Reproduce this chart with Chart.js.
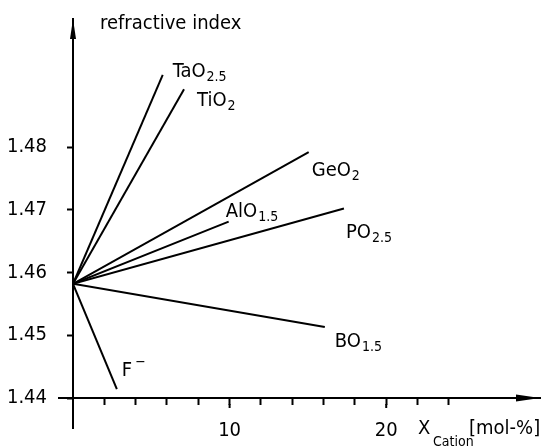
<!DOCTYPE html>
<html>
<head>
<meta charset="utf-8">
<title>Refractive index vs. cation content</title>
<script src="https://cdn.jsdelivr.net/npm/chart.js@4.4.1/dist/chart.umd.min.js"></script>
<style>
    body { margin: 0; background: #fff; }
    canvas { display: block; }
</style>
</head>
<body>
<canvas id="indexChart" width="543" height="447"></canvas>
<script>
// Values
const dopants = ['TaO2.5', 'TiO2', 'GeO2', 'AlO1.5', 'PO2.5', 'BO1.5', 'F-'];
const startX = 0;
const startN = 1.4582;
const endX = [5.73, 7.09, 15.05, 9.94, 17.3, 16.08, 2.8];
const endN = [1.4915, 1.4892, 1.4792, 1.4681, 1.4702, 1.4513, 1.4414];
const labelMain = ['TaO', 'TiO', 'GeO', 'AlO', 'PO', 'BO', 'F'];
const labelSub = ['2.5', '2', '2', '1.5', '2.5', '1.5', ''];
const labelSup = ['', '', '', '', '', '', '\u2212'];
const xTicks = [2, 4, 6, 8, 10, 12, 14, 16, 18, 20, 22, 24];
const xTickLabels = [10, 20];
const yTicks = [1.44, 1.45, 1.46, 1.47, 1.48];

// where each name sits, in pixels from the end of its line
const labelOffsets = [[10, 2], [13, 17], [3, 24], [-3, -5], [2, 29], [10, 20], [5, -13]];

const FONT = '"DejaVu Sans Condensed", "Liberation Sans Narrow", "DejaVu Sans", sans-serif';

let chart;

document.addEventListener('DOMContentLoaded', function() {
    initializeChart();
});

function buildDatasets() {
    return dopants.map((name, i) => ({
        label: name,
        data: [{ x: startX, y: startN }, { x: endX[i], y: endN[i] }],
        showLine: true,
        borderColor: '#000',
        borderWidth: 2,
        pointRadius: 0
    }));
}

// arrow heads, labels and axis titles
const annotations = {
    id: 'annotations',
    afterDraw(chart) {
        const ctx = chart.ctx;
        const xs = chart.scales.x;
        const ys = chart.scales.y;
        const area = chart.chartArea;
        const x0 = xs.getPixelForValue(0);
        const y0 = ys.getPixelForValue(yTicks[0]);

        ctx.save();
        ctx.fillStyle = '#000';
        ctx.strokeStyle = '#000';
        ctx.lineWidth = 2;

        // x axis runs a little past the y axis
        ctx.beginPath();
        ctx.moveTo(x0 - 15, y0);
        ctx.lineTo(x0, y0);
        ctx.stroke();

        ctx.beginPath();
        ctx.moveTo(area.right, y0);
        ctx.lineTo(area.right - 24, y0 - 3.5);
        ctx.lineTo(area.right - 24, y0 + 3.5);
        ctx.closePath();
        ctx.fill();

        ctx.beginPath();
        ctx.moveTo(x0, area.top);
        ctx.lineTo(x0 - 3, area.top + 20);
        ctx.lineTo(x0 + 3, area.top + 20);
        ctx.closePath();
        ctx.fill();

        // labelled ticks are a bit longer
        xTickLabels.forEach(v => {
            const px = xs.getPixelForValue(v);
            ctx.beginPath();
            ctx.moveTo(px, y0 + 6);
            ctx.lineTo(px, y0 + 10);
            ctx.stroke();
        });

        ctx.textAlign = 'left';
        ctx.textBaseline = 'alphabetic';
        dopants.forEach((name, i) => {
            const px = xs.getPixelForValue(endX[i]) + labelOffsets[i][0];
            const py = ys.getPixelForValue(endN[i]) + labelOffsets[i][1];
            ctx.font = '20px ' + FONT;
            ctx.fillText(labelMain[i], px, py);
            const w = ctx.measureText(labelMain[i]).width;
            ctx.font = '14px ' + FONT;
            if (labelSub[i]) ctx.fillText(labelSub[i], px + w + 1, py + 4);
            if (labelSup[i]) ctx.fillText(labelSup[i], px + w + 3, py - 10);
        });

        ctx.font = '20px ' + FONT;
        ctx.fillText('refractive index', x0 + 27, area.top + 10);
        ctx.fillText('X', 418, 434);
        ctx.fillText('[mol-%]', 469, 434);
        ctx.font = '14px ' + FONT;
        ctx.fillText('Cation', 433, 446);
        ctx.restore();
    }
};

function initializeChart() {
    const ctx = document.getElementById('indexChart').getContext('2d');
    chart = new Chart(ctx, {
        type: 'scatter',
        data: { datasets: buildDatasets() },
        options: {
            responsive: false,
            animation: false,
            layout: { padding: { left: 0, top: 19, right: 3, bottom: 19 } },
            plugins: {
                legend: { display: false },
                tooltip: { enabled: false }
            },
            scales: {
                x: {
                    type: 'linear',
                    min: 0,
                    max: 29.82,
                    position: { y: yTicks[0] },
                    afterBuildTicks: scale => {
                        scale.ticks = xTicks.map(v => ({ value: v }));
                    },
                    grid: { drawOnChartArea: false, tickLength: 6, tickWidth: 2, color: '#000' },
                    border: { color: '#000', width: 2 },
                    ticks: {
                        color: '#000',
                        padding: 15,
                        maxRotation: 0,
                        autoSkip: false,
                        font: { family: FONT, size: 20 },
                        callback: v => xTickLabels.includes(v) ? String(v) : ''
                    }
                },
                y: {
                    type: 'linear',
                    position: 'left',
                    min: 1.43522,
                    max: 1.5004,
                    afterFit: scale => {
                        // fixed axis width, and no extra room above/below for the labels
                        scale.width = 73;
                        scale.paddingTop = 0;
                        scale.paddingBottom = 0;
                    },
                    afterBuildTicks: scale => {
                        scale.ticks = yTicks.map(v => ({ value: v }));
                    },
                    grid: { drawOnChartArea: false, tickLength: 6, tickWidth: 2, color: '#000' },
                    border: { color: '#000', width: 2 },
                    ticks: {
                        color: '#000',
                        padding: 20,
                        autoSkip: false,
                        font: { family: FONT, size: 20 },
                        callback: v => v.toFixed(2)
                    }
                }
            }
        },
        plugins: [annotations]
    });
}
</script>
</body>
</html>
